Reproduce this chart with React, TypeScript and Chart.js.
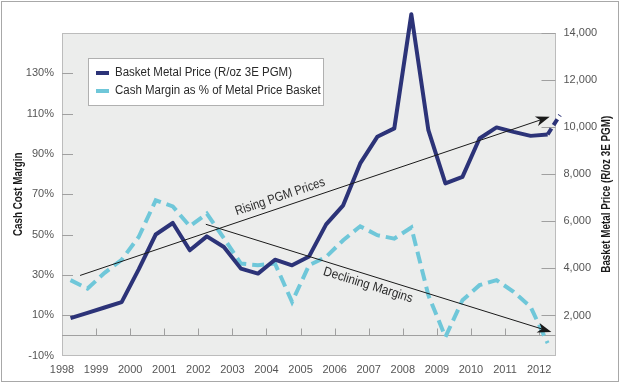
import React, { useEffect, useRef } from "react";
import { Chart, registerables } from "chart.js";

Chart.register(...registerables);

// ---------- data ----------
const periods = [
  1998.25, 1998.75, 1999.25, 1999.75, 2000.25, 2000.75, 2001.25, 2001.75,
  2002.25, 2002.75, 2003.25, 2003.75, 2004.25, 2004.75, 2005.25, 2005.75,
  2006.25, 2006.75, 2007.25, 2007.75, 2008.25, 2008.75, 2009.25, 2009.75,
  2010.25, 2010.75, 2011.25, 2011.75, 2012.25,
];
const basketPrice = [
  1890, 2110, 2340, 2570, 3960, 5440, 5930, 4770,
  5360, 4910, 3990, 3780, 4370, 4130, 4510, 5870,
  6680, 8460, 9590, 9950, 14800, 9870, 7610, 7890,
  9520, 9990, 9800, 9630, 9690,
];
const cashMargin = [
  27.4, 23.2, 31.0, 37.5, 48.8, 67.0, 64.0, 54.1,
  60.4, 48.2, 35.6, 34.8, 35.6, 16.6, 34.8, 38.9,
  47.2, 54.1, 49.7, 48.0, 53.5, 19.9, -0.8, 17.4,
  24.9, 27.4, 21.6, 14.1, -3.9,
];
const projectionPeriods = [2012.25, 2012.61];
const projectionPrice = [9690, 10510];

const yearTicks = [1998, 1999, 2000, 2001, 2002, 2003, 2004, 2005, 2006, 2007, 2008, 2009, 2010, 2011, 2012];
const marginTicks = [-10, 10, 30, 50, 70, 90, 110, 130];
const priceTicks = [2000, 4000, 6000, 8000, 10000, 12000, 14000];

const legendLabels = ["Basket Metal Price (R/oz 3E PGM)", "Cash Margin as % of Metal Price Basket"];
const leftTitle = "Cash Cost Margin";
const rightTitle = "Basket Metal Price (R/oz 3E PGM)";

// annotations (data coordinates)
const risingArrow = { axis: "y2", from: [1998.53, 3700], to: [2012.31, 10440] };
const decliningArrow = { axis: "y", from: [2002.22, 55.1], to: [2012.36, 1.7] };
const risingLabel = { axis: "y2", text: "Rising PGM Prices", at: [2004.4, 7035] };
const decliningLabel = { axis: "y", text: "Declining Margins", at: [2006.98, 24.9] };

const NAVY = "#2c3378";
const CYAN = "#6fc7d9";
const FONT = "'Liberation Sans Narrow', 'Arial Narrow', 'Liberation Sans', sans-serif";

function drawText(
  ctx: CanvasRenderingContext2D, text: string, x: number, y: number, angle: number,
  font: string, sx: number, color: string, align: CanvasTextAlign = "center"
) {
  ctx.save();
  ctx.translate(x, y);
  ctx.rotate(angle);
  ctx.scale(sx, 1);
  ctx.font = font;
  ctx.fillStyle = color;
  ctx.textAlign = align;
  ctx.textBaseline = "middle";
  ctx.fillText(text, 0, 0);
  ctx.restore();
}

function drawArrow(ctx: CanvasRenderingContext2D, x1: number, y1: number, x2: number, y2: number) {
  const ang = Math.atan2(y2 - y1, x2 - x1);
  const len = 14;
  const hw = 5;
  ctx.save();
  ctx.strokeStyle = "#1a1a1a";
  ctx.lineWidth = 1;
  ctx.beginPath();
  ctx.moveTo(x1, y1);
  ctx.lineTo(x2 - Math.cos(ang) * len * 0.7, y2 - Math.sin(ang) * len * 0.7);
  ctx.stroke();
  ctx.translate(x2, y2);
  ctx.rotate(ang);
  ctx.fillStyle = "#1a1a1a";
  ctx.beginPath();
  ctx.moveTo(0, 0);
  ctx.lineTo(-len, -hw);
  ctx.lineTo(-len * 0.72, 0);
  ctx.lineTo(-len, hw);
  ctx.closePath();
  ctx.fill();
  ctx.restore();
}

const decorPlugin = {
  id: "decor",
  beforeDraw(chart: any) {
    const { ctx, chartArea: a, width, height } = chart;
    ctx.save();
    ctx.fillStyle = "#ffffff";
    ctx.fillRect(0, 0, width, height);
    ctx.strokeStyle = "#a8a8a8";
    ctx.lineWidth = 1;
    ctx.strokeRect(1.5, 1.5, width - 3, height - 3);
    ctx.fillStyle = "#ecedec";
    ctx.fillRect(a.left, a.top, a.right - a.left, a.bottom - a.top);
    ctx.strokeStyle = "#bcbcbc";
    ctx.strokeRect(Math.round(a.left) + 0.5, Math.round(a.top) + 0.5, Math.round(a.right - a.left) - 1, Math.round(a.bottom - a.top) - 1);
    ctx.restore();
    // axis titles
    const cy = (a.top + a.bottom) / 2;
    drawText(ctx, leftTitle, 18.5, cy, -Math.PI / 2, `bold 12px ${FONT}`, 0.82, "#1a1a1a");
    drawText(ctx, rightTitle, 607, cy, -Math.PI / 2, `bold 12px ${FONT}`, 0.82, "#1a1a1a");
  },
  beforeDatasetsDraw(chart: any) {
    const { ctx, chartArea: a, scales } = chart;
    const x = scales.x, y = scales.y, y2 = scales.y2;
    ctx.save();
    ctx.strokeStyle = "#a0a0a0";
    ctx.lineWidth = 1;
    const y0 = Math.round(y.getPixelForValue(0)) + 0.5;
    ctx.beginPath();
    ctx.moveTo(a.left, y0);
    ctx.lineTo(a.right, y0);
    yearTicks.forEach((yr) => {
      if (yr === yearTicks[0]) return;
      const px = Math.round(x.getPixelForValue(yr)) + 0.5;
      ctx.moveTo(px, y0);
      ctx.lineTo(px, y0 - 7);
    });
    marginTicks.forEach((v) => {
      if (v === marginTicks[0]) return;
      const py = Math.round(y.getPixelForValue(v)) + 0.5;
      ctx.moveTo(a.left, py);
      ctx.lineTo(a.left + 11, py);
    });
    priceTicks.forEach((v) => {
      const py = Math.round(y2.getPixelForValue(v)) + 0.5;
      ctx.moveTo(a.right - 14, py);
      ctx.lineTo(a.right, py);
    });
    ctx.stroke();
    ctx.restore();
  },
  afterDatasetsDraw(chart: any) {
    const { ctx, chartArea: a, scales } = chart;
    const x = scales.x;
    [risingArrow, decliningArrow].forEach((ar) => {
      const s = scales[ar.axis];
      drawArrow(
        ctx,
        x.getPixelForValue(ar.from[0]), s.getPixelForValue(ar.from[1]),
        x.getPixelForValue(ar.to[0]), s.getPixelForValue(ar.to[1])
      );
    });
    [[risingLabel, risingArrow, 0.86], [decliningLabel, decliningArrow, 0.9]].forEach(([lab, ar, sx]: any) => {
      const s = scales[ar.axis];
      const ang = Math.atan2(
        s.getPixelForValue(ar.to[1]) - s.getPixelForValue(ar.from[1]),
        x.getPixelForValue(ar.to[0]) - x.getPixelForValue(ar.from[0])
      );
      const ls = scales[lab.axis];
      drawText(ctx, lab.text, x.getPixelForValue(lab.at[0]), ls.getPixelForValue(lab.at[1]), ang, `13px ${FONT}`, sx, "#2a2a2a");
    });
    // legend
    const bx = a.left + 26, by = a.top + 25, bw = 235, bh = 47;
    ctx.save();
    ctx.fillStyle = "#ffffff";
    ctx.fillRect(bx, by, bw, bh);
    ctx.strokeStyle = "#b0b0b0";
    ctx.lineWidth = 1;
    ctx.strokeRect(Math.round(bx) + 0.5, Math.round(by) + 0.5, bw, bh);
    ctx.restore();
    const colors = [NAVY, CYAN];
    legendLabels.forEach((t, i) => {
      const ry = by + 15 + i * 18;
      ctx.save();
      ctx.fillStyle = colors[i];
      ctx.fillRect(bx + 8, ry - 2, 13, 4);
      ctx.restore();
      drawText(ctx, t, bx + 27, ry, 0, `12.5px ${FONT}`, 0.92, "#2a2a2a", "left");
    });
  },
};

export default function App() {
  const ref = useRef<HTMLCanvasElement | null>(null);
  useEffect(() => {
    document.body.style.margin = "0";
    if (!ref.current) return;
    Chart.defaults.font.family = FONT;
    const chart = new Chart(ref.current, {
      type: "line",
      data: {
        datasets: [
          {
            label: legendLabels[0],
            data: periods.map((p, i) => ({ x: p, y: basketPrice[i] })),
            yAxisID: "y2",
            borderColor: NAVY,
            borderWidth: 4,
            borderJoinStyle: "round",
            pointRadius: 0,
            tension: 0,
            clip: false as any,
            order: 1,
          },
          {
            label: "projection",
            data: projectionPeriods.map((p, i) => ({ x: p, y: projectionPrice[i] })),
            yAxisID: "y2",
            borderColor: NAVY,
            borderWidth: 4,
            borderDash: [7, 4],
            pointRadius: 0,
            clip: false as any,
            order: 1,
          },
          {
            label: legendLabels[1],
            data: periods.map((p, i) => ({ x: p, y: cashMargin[i] })),
            yAxisID: "y",
            borderColor: CYAN,
            borderWidth: 4,
            borderDash: [12, 6],
            pointRadius: 0,
            tension: 0,
            clip: false as any,
            order: 2,
          },
        ],
      },
      options: {
        animation: false,
        responsive: false,
        layout: { padding: { top: 33, left: 0, right: 0, bottom: 0 } },
        plugins: { legend: { display: false }, tooltip: { enabled: false } },
        scales: {
          x: {
            type: "linear",
            min: 1998,
            max: 2012.48,
            grid: { display: false, drawTicks: false },
            border: { display: false },
            afterBuildTicks: (s: any) => {
              s.ticks = yearTicks.map((v) => ({ value: v }));
            },
            afterFit: (s: any) => {
              s.height = 27.5;
            },
            ticks: {
              autoSkip: false,
              maxRotation: 0,
              padding: 8,
              color: "#555",
              font: { size: 11 },
              callback: (v: any) => String(v),
            },
          },
          y: {
            type: "linear",
            position: "left",
            min: -10,
            max: 150,
            grid: { display: false, drawTicks: false },
            border: { display: false },
            afterBuildTicks: (s: any) => {
              s.ticks = marginTicks.map((v) => ({ value: v }));
            },
            afterFit: (s: any) => {
              s.width = 62;
            },
            ticks: {
              padding: 8,
              color: "#555",
              font: { size: 11 },
              callback: (v: any) => `${v}%`,
            },
          },
          y2: {
            type: "linear",
            position: "right",
            min: 300,
            max: 14000,
            grid: { display: false, drawTicks: false },
            border: { display: false },
            afterBuildTicks: (s: any) => {
              s.ticks = priceTicks.map((v) => ({ value: v }));
            },
            afterFit: (s: any) => {
              s.width = 64.5;
            },
            ticks: {
              padding: 8,
              color: "#555",
              font: { size: 11 },
              callback: (v: any) => Number(v).toLocaleString("en-US"),
            },
          },
        },
      },
      plugins: [decorPlugin],
    });
    return () => chart.destroy();
  }, []);
  return (
    <div style={{ width: 620, height: 383 }}>
      <canvas ref={ref} width={620} height={383} style={{ display: "block" }} />
    </div>
  );
}
